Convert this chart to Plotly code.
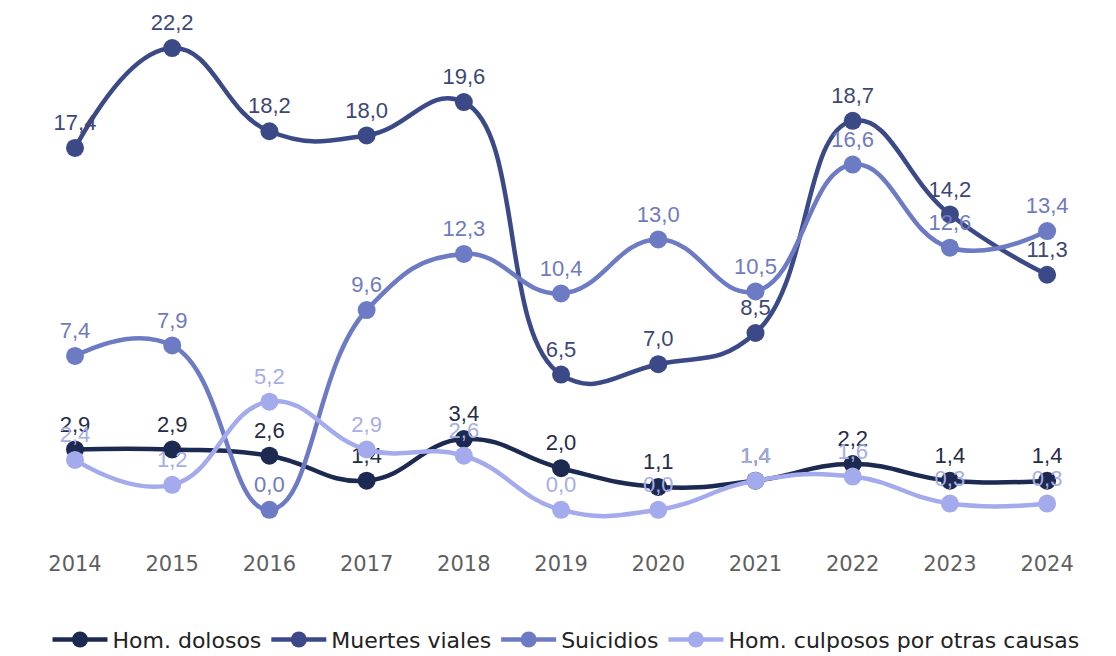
import plotly.graph_objects as go

years = [2014, 2015, 2016, 2017, 2018, 2019, 2020, 2021, 2022, 2023, 2024]
hom_dolosos = [2.9, 2.9, 2.6, 1.4, 3.4, 2.0, 1.1, 1.4, 2.2, 1.4, 1.4]
muertes_viales = [17.4, 22.2, 18.2, 18.0, 19.6, 6.5, 7.0, 8.5, 18.7, 14.2, 11.3]
suicidios = [7.4, 7.9, 0.0, 9.6, 12.3, 10.4, 13.0, 10.5, 16.6, 12.6, 13.4]
hom_culposos = [2.4, 1.2, 5.2, 2.9, 2.6, 0.0, 0.0, 1.4, 1.6, 0.3, 0.3]

series = [
    ("Hom. dolosos", hom_dolosos, "#1c2951", "#252c45"),
    ("Muertes viales", muertes_viales, "#3b4a86", "#3d4776"),
    ("Suicidios", suicidios, "#6d7bc4", "#6f7bbd"),
    ("Hom. culposos por otras causas", hom_culposos, "#a3abec", "#a6aee8"),
]

fig = go.Figure()
for name, vals, color, tcolor in series:
    fig.add_trace(go.Scatter(
        x=years, y=vals, name=name,
        mode="lines+markers+text",
        line=dict(color=color, width=4.5, shape="spline", smoothing=1.3),
        marker=dict(color=color, size=18),
        text=vals,
        texttemplate="%{y:.1f}",
        textposition="top center",
        textfont=dict(family="Liberation Sans, Arial, sans-serif", size=22, color=tcolor),
        cliponaxis=False,
    ))

fig.update_layout(
    width=1116, height=656,
    margin=dict(l=32, r=38, t=13, b=123, autoexpand=False),
    paper_bgcolor="white", plot_bgcolor="white",
    separators=",.",
    showlegend=True,
    legend=dict(orientation="h", xref="container", yref="container",
                x=0.5, xanchor="center", y=0.037, yanchor="middle",
                font=dict(family="DejaVu Sans, sans-serif", size=22, color="#222222"),
                itemwidth=55, traceorder="normal"),
    xaxis=dict(range=[2013.64, 2024.40], tickmode="array", tickvals=years,
               ticktext=[str(y) for y in years], showgrid=False, zeroline=False,
               showline=False, ticks="outside", ticklen=4, tickcolor="rgba(0,0,0,0)",
               tickfont=dict(family="DejaVu Sans, sans-serif", size=21, color="#5f5f5f")),
    yaxis=dict(range=[-1.5, 23.5], visible=False, showgrid=False, zeroline=False),
)

fig.write_html("out.html")
